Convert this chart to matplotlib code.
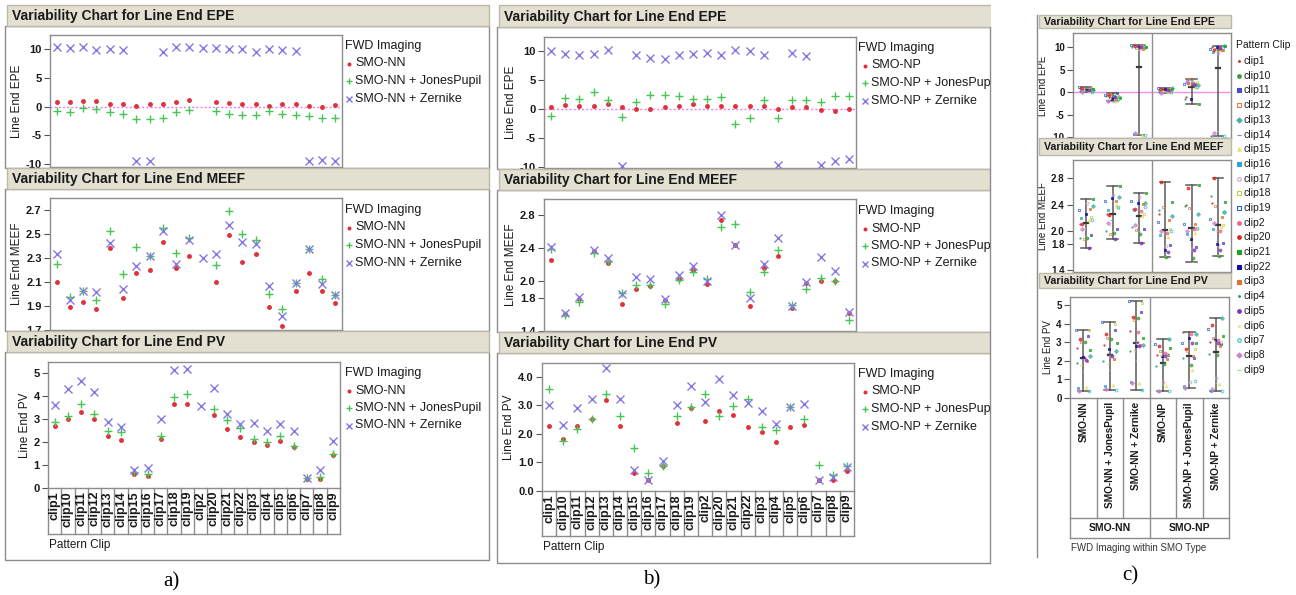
import numpy as np
import matplotlib
matplotlib.use("Agg")
import matplotlib.pyplot as plt
from matplotlib.patches import Rectangle
from matplotlib.lines import Line2D

plt.rcParams['font.family'] = ['Liberation Sans', 'DejaVu Sans']

W, H = 1296, 595
fig = plt.figure(figsize=(W / 100, H / 100), dpi=100)

nan = float('nan')
clips = ['clip1', 'clip10', 'clip11', 'clip12', 'clip13', 'clip14', 'clip15', 'clip16',
         'clip17', 'clip18', 'clip19', 'clip2', 'clip20', 'clip21', 'clip22', 'clip3',
         'clip4', 'clip5', 'clip6', 'clip7', 'clip8', 'clip9']
nn_labels = ['SMO-NN', 'SMO-NN + JonesPupil', 'SMO-NN + Zernike']
np_labels = ['SMO-NP', 'SMO-NP + JonesPupil', 'SMO-NP + Zernike']
smo_types = ['SMO-NN', 'SMO-NP']

# ---- panel a (SMO-NN) ----
a_epe_nn = [0.8, 0.8, 1.0, 1.0, 0.5, 0.4, 0.2, 0.4, 0.5, 0.9, 1.2, nan, 0.8, 0.6, 0.5, 0.5, 0.2, 0.5, 0.4, 0.1, -0.1, 0.3]
a_epe_jp = [-0.7, -0.9, -0.25, -0.4, -1.0, -1.2, -2.1, -2.1, -1.9, -0.9, -0.6, nan, -0.7, -1.3, -1.5, -1.5, -0.8, -1.2, -1.4, -1.6, -1.9, -1.9]
a_epe_zk = [10.4, 10.2, 10.4, 9.8, 10.0, 9.9, -9.5, -9.4, 9.6, 10.4, 10.4, 10.3, 10.3, 10.1, 10.0, 9.6, 10.0, 9.9, 9.7, -9.5, -9.2, -9.4]

a_meef_nn = [2.10, 1.89, 1.93, 1.87, 2.38, 1.96, 2.17, 2.20, 2.43, 2.21, 2.31, nan, 2.10, 2.49, 2.26, 2.33, 1.89, 1.73, 2.02, 2.17, 2.02, 1.92]
a_meef_jp = [2.25, 1.97, 2.02, 1.95, 2.52, 2.16, 2.39, 2.31, 2.55, 2.34, 2.46, nan, 2.24, 2.69, 2.50, 2.45, 2.00, 1.87, 2.09, 2.37, 2.12, 1.99]
a_meef_zk = [2.33, 1.95, 2.02, 2.01, 2.42, 2.04, 2.23, 2.31, 2.52, 2.25, 2.45, 2.30, 2.33, 2.57, 2.43, 2.41, 2.06, 1.81, 2.09, 2.37, 2.08, 1.99]

a_pv_nn = [2.71, 3.02, 3.31, 3.02, 2.24, 2.09, 0.60, 0.53, 2.14, 3.66, 3.67, nan, 3.19, 2.56, 2.21, 1.98, 1.87, 2.06, 1.80, 0.37, 0.37, 1.43]
a_pv_jp = [2.85, 3.15, 3.66, 3.22, 2.50, 2.42, 0.70, 0.63, 2.24, 3.97, 4.07, nan, 3.44, 2.94, 2.61, 2.12, 1.99, 2.24, 1.83, 0.45, 0.48, 1.48]
a_pv_zk = [3.60, 4.29, 4.65, 4.17, 2.85, 2.65, 0.78, 0.85, 3.02, 5.12, 5.19, 3.56, 4.36, 3.22, 2.78, 2.83, 2.50, 2.78, 2.50, 0.45, 0.78, 2.05]

# ---- panel b (SMO-NP) ----
b_epe_nn = [0.4, 0.65, 0.5, 0.6, 0.9, 0.3, 0.0, 0.0, 0.3, 0.6, 0.8, 0.6, 0.6, 0.6, 0.6, 0.5, 0.0, 0.4, 0.3, -0.1, -0.3, 0.0]
b_epe_jp = [-1.2, 1.95, 1.8, 3.0, 1.5, -1.35, 1.2, 2.4, 2.5, 2.25, 1.8, 1.8, 2.05, -2.6, -1.6, 1.6, -1.5, 1.6, 1.6, 1.2, 2.25, 2.35]
b_epe_zk = [10.0, 9.5, 9.3, 9.6, 10.3, -9.85, 9.4, 8.9, 8.7, 9.4, 9.6, 9.7, 9.3, 10.3, 10.1, 9.3, -9.7, 9.7, 9.2, -9.7, -9.0, -8.6]

b_meef_nn = [2.26, 1.60, 1.78, 2.37, 2.22, 1.73, 1.91, 1.94, 1.77, 2.03, 2.14, 1.97, 2.75, 2.44, 1.70, 2.16, 2.31, 1.68, 1.98, 2.00, 2.00, 1.61]
b_meef_jp = [2.39, 1.59, 1.75, 2.34, 2.25, 1.86, 1.96, 1.95, 1.72, 2.02, 2.11, 2.03, 2.66, 2.70, 1.87, 2.11, 2.38, 1.71, 1.91, 2.04, 2.00, 1.53]
b_meef_zk = [2.42, 1.61, 1.81, 2.38, 2.28, 1.85, 2.05, 2.03, 1.78, 2.08, 2.18, 2.00, 2.80, 2.44, 1.80, 2.21, 2.53, 1.70, 1.99, 2.29, 2.12, 1.63]

b_pv_nn = [2.29, 1.83, 2.29, 2.52, 3.18, 2.29, 0.64, 0.40, 0.88, 2.37, 2.90, 2.44, 2.80, 2.67, 2.26, 2.07, 1.71, 2.26, 2.32, 0.38, 0.40, 0.71]
b_pv_jp = [3.57, 1.75, 2.17, 2.52, 3.42, 2.64, 1.51, 0.64, 0.88, 2.64, 2.94, 3.42, 2.62, 2.98, 3.24, 2.25, 2.14, 2.94, 2.52, 0.92, 0.56, 0.88]
b_pv_zk = [3.02, 2.31, 2.90, 3.24, 4.31, 3.21, 0.74, 0.38, 1.06, 3.02, 3.69, 3.12, 3.92, 3.36, 3.10, 2.82, 2.35, 2.94, 3.06, 0.38, 0.50, 0.83]

# ---- styles ----
SER_COL = ['#e0303a', '#45c552', '#8478e4']
SER_MK = ['o', '+', 'x']
SER_MS = [2.5, 5.5, 5.3]
FRAME = '#8c8c8c'
BAR_FC = '#e4e0d1'
BAR_EC = '#bdb9a9'

clip_colors = ['#c83a3a', '#3a9a3a', '#4a4ad0', '#e08040', '#40b0a0', '#9080c0', '#f0e060',
               '#30a0e0', '#d0a0c8', '#c0d040', '#2060d0', '#f06090', '#e02020', '#20a020',
               '#1010a0', '#e07030', '#30a080', '#8030c0', '#f0e080', '#30c0c0', '#d080d0', '#90e090']
clip_markers = ['.', 'o', 's', 's', 'D', '_', '^', 's', 'o', 's', 's', 'o', 'o', 's', 's', 's',
                '.', 'o', '.', 'o', 'D', '_']
clip_open = [False, False, False, True, False, False, False, False, True, True, True, False,
             False, False, False, False, False, False, False, True, False, False]
jitter = [-0.22, 0.05, 0.18, -0.10, 0.25, -0.05, 0.12, -0.18, 0.02, 0.20, -0.28, 0.08,
          -0.14, 0.27, -0.02, 0.15, -0.25, 0.10, -0.08, 0.22, -0.16, 0.00]


def fx(x):
    return x / W


def fy(y):
    return 1 - y / H


def add_ax(x0, y0, x1, y1):
    return fig.add_axes([fx(x0), fy(y1), (x1 - x0) / W, (y1 - y0) / H])


def frect(x0, y0, x1, y1, fc='none', ec=FRAME, lw=1.0, z=0.5):
    r = Rectangle((fx(x0), fy(y1)), (x1 - x0) / W, (y1 - y0) / H, transform=fig.transFigure,
                  facecolor=fc, edgecolor=ec, lw=lw, zorder=z)
    fig.add_artist(r)
    return r


def fline(xs, ys, color=FRAME, lw=1.0, z=0.6):
    fig.add_artist(Line2D([fx(v) for v in xs], [fy(v) for v in ys], transform=fig.transFigure,
                          color=color, lw=lw, zorder=z))


def ftext(x, y, s, **kw):
    return fig.text(fx(x), fy(y), s, **kw)


def title_bar(x0, y0, x1, y1, text, size):
    frect(x0, y0, x1, y1, fc=BAR_FC, ec=BAR_EC, lw=1.0, z=2)
    ftext(x0 + 5, (y0 + y1) / 2 + 0.5, text, fontsize=size, fontweight='bold', va='center',
          ha='left', color='#1a1a1a', zorder=3)


def style_ax(ax, ylim, yticks, yticklabels, ylabel, fs=8, lfs=8.5):
    ax.set_ylim(*ylim)
    ax.set_yticks(yticks)
    ax.set_yticklabels(yticklabels, fontsize=fs, fontweight='bold', color='#1a1a1a')
    ax.set_xticks([])
    for s in ax.spines.values():
        s.set_color(FRAME)
        s.set_linewidth(1.0)
    ax.tick_params(axis='y', length=4, width=0.8, color='#555555', pad=2)
    ax.set_ylabel(ylabel, fontsize=lfs, color='#1a1a1a', labelpad=2)


def series_chart(x0, y0, x1, y1, series, ylim, yticks, yticklabels, ylabel, zero_line=False):
    ax = add_ax(x0, y0, x1, y1)
    xs = np.arange(len(clips))
    for vals, c, m, ms in zip(series, SER_COL, SER_MK, SER_MS):
        ax.plot(xs, vals, linestyle='none', marker=m, color=c, ms=ms, mew=1.0, zorder=3)
    if zero_line:
        ax.axhline(0, color='#f07cf0', lw=1.0, ls=(0, (1.5, 1.5)), zorder=2)
    ax.set_xlim(-0.5, len(clips) - 0.5)
    style_ax(ax, ylim, yticks, yticklabels, ylabel)
    return ax


def legend_block(x, y, names, fs=9, step=17.5, tx=10):
    ftext(x, y, 'FWD Imaging', fontsize=fs, ha='left', va='center', color='#1a1a1a', zorder=3)
    for i, (nm, c, m, ms) in enumerate(zip(names, SER_COL, SER_MK, SER_MS)):
        yy = y + step * (i + 1)
        fig.add_artist(Line2D([fx(x + tx - 6)], [fy(yy)], marker=m, color=c, ms=ms * 0.75,
                              mew=1.0, linestyle='none', transform=fig.transFigure, zorder=3))
        ftext(x + tx, yy, nm, fontsize=fs, ha='left', va='center', color='#1a1a1a', zorder=3)


def clip_cells(ax, y_top, y_bot, ax_h):
    frac = (y_bot - y_top) / ax_h
    tr = ax.get_xaxis_transform()
    n = len(clips)
    for i in range(n + 1):
        ax.plot([i - 0.5, i - 0.5], [0, -frac], transform=tr, color=FRAME, lw=1.0, clip_on=False)
    ax.plot([-0.5, n - 0.5], [-frac, -frac], transform=tr, color=FRAME, lw=1.0, clip_on=False)
    for i, c in enumerate(clips):
        ax.text(i, -3.0 / ax_h, c, transform=tr, rotation=90, ha='center', va='top',
                fontsize=9, fontweight='bold', color='#1a1a1a')


def vpanel(px0, px1, ax_x0, ax_x1, tops, data, legend_names, legend_pos, meef_ticks, pv_ticks,
           epe_tops, title_x1, frame_bottom, pc_y):
    (t1, t2, t3) = tops
    frect(px0, t1[1], px1, t2[0], z=0.5)
    frect(px0, t2[1], px1, t3[0], z=0.5)
    frect(px0, t3[1], px1, frame_bottom, z=0.5)
    for (ya, yb), ttl in zip(tops, ['Variability Chart for Line End EPE',
                                    'Variability Chart for Line End MEEF',
                                    'Variability Chart for Line End PV']):
        title_bar(px0 + 2, ya, title_x1, yb, ttl, 10)
    epe, meef, pv = data
    e = epe_tops
    series_chart(ax_x0, e[0], ax_x1, t2[0] - 1, epe, e[1], [10, 5, 0, -5, -10],
                 ['10', '5', '0', '-5', '-10'], 'Line End EPE', zero_line=True)
    m = meef_ticks
    series_chart(ax_x0, m[0], ax_x1, t3[0] - 1, meef, m[1], m[2], m[3], 'Line End MEEF')
    p = pv_ticks
    ax = series_chart(ax_x0 - 2, p[0], ax_x1 - 2, p[1], pv, p[2], p[3], p[4], 'Line End PV')
    clip_cells(ax, p[1], p[5], p[1] - p[0])
    ftext(ax_x0 - 1, pc_y, 'Pattern Clip', fontsize=8.5, ha='left', va='center', color='#1a1a1a')
    for yy in legend_pos[1]:
        legend_block(legend_pos[0], yy, legend_names, tx=legend_pos[2])


# ---------------- panel a ----------------
vpanel(5, 489, 50, 342,
       tops=[(5, 26), (168, 189), (331, 352)],
       data=[[a_epe_nn, a_epe_jp, a_epe_zk], [a_meef_nn, a_meef_jp, a_meef_zk],
             [a_pv_nn, a_pv_jp, a_pv_zk]],
       legend_names=nn_labels,
       legend_pos=(345, [46, 210, 373], 10),
       meef_ticks=(198, (1.697, 2.796), [2.7, 2.5, 2.3, 2.1, 1.9, 1.7],
                   ['2.7', '2.5', '2.3', '2.1', '1.9', '1.7']),
       pv_ticks=(362, 488, (0, 5.48), [0, 1, 2, 3, 4, 5], ['0', '1', '2', '3', '4', '5'], 534),
       epe_tops=(35, (-10.5, 12.48)),
       title_x1=489, frame_bottom=560, pc_y=545)

# ---------------- panel b ----------------
vpanel(497, 995, 544, 856,
       tops=[(5, 27), (169, 190), (332, 353)],
       data=[[b_epe_nn, b_epe_jp, b_epe_zk], [b_meef_nn, b_meef_jp, b_meef_zk],
             [b_pv_nn, b_pv_jp, b_pv_zk]],
       legend_names=np_labels,
       legend_pos=(858, [48, 211, 374], 13),
       meef_ticks=(199, (1.396, 3.0), [2.8, 2.4, 2.0, 1.8, 1.4], ['2.8', '2.4', '2.0', '1.8', '1.4']),
       pv_ticks=(363, 491, (0, 4.49), [0, 1, 2, 3, 4], ['0.0', '1.0', '2.0', '3.0', '4.0'], 536),
       epe_tops=(37, (-10.2, 12.48)),
       title_x1=995, frame_bottom=563, pc_y=547)

# white mask that cuts panel b on the right
frect(991, 0, 1034, 570, fc='white', ec='none', z=5)
fline([990, 990], [27, 563], z=6)

# ---------------- panel c ----------------
groups = nn_labels + np_labels
c_epe = [a_epe_nn, a_epe_jp, a_epe_zk, b_epe_nn, b_epe_jp, b_epe_zk]
c_meef = [a_meef_nn, a_meef_jp, a_meef_zk, b_meef_nn, b_meef_jp, b_meef_zk]
c_pv = [a_pv_nn, a_pv_jp, a_pv_zk, b_pv_nn, b_pv_jp, b_pv_zk]

fline([1037, 1037], [15, 557], z=0.6)
title_bar(1039, 15, 1231, 28, 'Variability Chart for Line End EPE', 7.7)
title_bar(1039, 138, 1231, 155, 'Variability Chart for Line End MEEF', 7.7)
title_bar(1039, 273, 1231, 288, 'Variability Chart for Line End PV', 7.7)


def c_chart(x0, y0, x1, y1, vals_by_group, ylim, yticks, yticklabels, ylabel, zero=False):
    ax = add_ax(x0, y0, x1, y1)
    for g, vals in enumerate(vals_by_group):
        v = np.array(vals, dtype=float)
        lo, hi, mu = np.nanmin(v), np.nanmax(v), np.nanmean(v)
        ax.plot([g, g], [lo, hi], color='#5a5a5a', lw=1.1, zorder=2)
        ax.plot([g - 0.2, g + 0.2], [lo, lo], color='#5a5a5a', lw=1.1, zorder=2)
        ax.plot([g - 0.2, g + 0.2], [hi, hi], color='#5a5a5a', lw=1.1, zorder=2)
        ax.plot([g - 0.08, g + 0.08], [mu, mu], color='#3a3a3a', lw=1.6, zorder=2)
        for i, val in enumerate(v):
            if np.isnan(val):
                continue
            ax.plot(g + jitter[i], val, linestyle='none', marker=clip_markers[i], ms=2.0,
                    mec=clip_colors[i], mfc='none' if clip_open[i] else clip_colors[i],
                    mew=0.7, alpha=0.75, zorder=3)
    if zero:
        ax.axhline(0, color='#f090f0', lw=1.0, zorder=1)
    ax.axvline(2.5, color='#909090', lw=1.0, zorder=1)
    ax.set_xlim(-0.5, 5.5)
    style_ax(ax, ylim, yticks, yticklabels, ylabel, fs=7, lfs=7)
    return ax


c_chart(1073, 33, 1231, 138, c_epe, (-10.2, 13.1), [10, 5, 0, -5, -10],
        ['10', '5', '0', '-5', '-10'], 'Line End EPE', zero=True)
c_chart(1073, 160, 1231, 272, c_meef, (1.37, 3.08), [2.8, 2.4, 2.0, 1.8, 1.4],
        ['2.8', '2.4', '2.0', '1.8', '1.4'], 'Line End MEEF')
axc = c_chart(1070, 297, 1229, 398, c_pv, (0, 5.43), [0, 1, 2, 3, 4, 5],
              ['0', '1', '2', '3', '4', '5'], 'Line End PV')

axh = 398 - 297
tr = axc.get_xaxis_transform()
f1 = (518 - 398) / axh
f2 = (538 - 398) / axh
for i in range(7):
    yb = f2 if i in (0, 3, 6) else f1
    axc.plot([i - 0.5, i - 0.5], [0, -yb], transform=tr, color=FRAME, lw=1.0, clip_on=False)
axc.plot([-0.5, 5.5], [-f1, -f1], transform=tr, color=FRAME, lw=1.0, clip_on=False)
axc.plot([-0.5, 5.5], [-f2, -f2], transform=tr, color=FRAME, lw=1.0, clip_on=False)
for g, nm in enumerate(groups):
    axc.text(g, -4.0 / axh, nm, transform=tr, rotation=90, ha='center', va='top',
             fontsize=7.3, fontweight='bold', color='#1a1a1a')
for k, nm in enumerate(smo_types):
    axc.text(1 + 3 * k, -(f1 + f2) / 2, nm, transform=tr, ha='center', va='center',
             fontsize=7.5, fontweight='bold', color='#1a1a1a')
ftext(1071, 548, 'FWD Imaging within SMO Type', fontsize=7, ha='left', va='center', color='#333333')

ftext(1236, 45, 'Pattern Clip', fontsize=7.5, ha='left', va='center', color='#1a1a1a', zorder=7)
for i, nm in enumerate(clips):
    yy = 61 + 14.7 * i
    fig.add_artist(Line2D([fx(1239)], [fy(yy)], marker=clip_markers[i], ms=2.6,
                          mec=clip_colors[i], mfc='none' if clip_open[i] else clip_colors[i],
                          mew=0.8, linestyle='none', transform=fig.transFigure, zorder=7))
    ftext(1243, yy, nm, fontsize=7.5, ha='left', va='center', color='#1a1a1a', zorder=7)

ftext(171, 582, 'a)', fontsize=15, family='Liberation Serif', ha='center', va='center')
ftext(652, 580, 'b)', fontsize=15, family='Liberation Serif', ha='center', va='center')
ftext(1130, 576, 'c)', fontsize=15, family='Liberation Serif', ha='center', va='center')

fig.savefig('out.png', dpi=100)
